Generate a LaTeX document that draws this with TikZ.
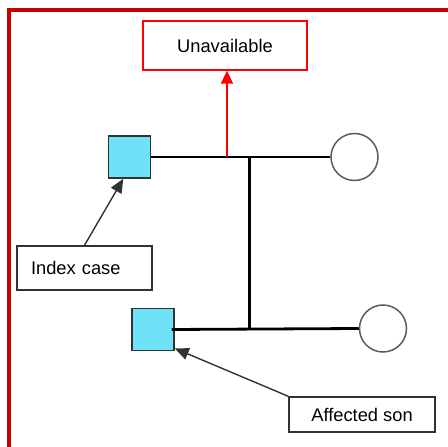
\documentclass[tikz,border=0pt]{standalone}
\usepackage{fontspec}
\setmainfont{Liberation Sans}
\usetikzlibrary{arrows.meta,calc}
\definecolor{framered}{RGB}{196,0,0}
\definecolor{affcyan}{RGB}{110,226,246}
\definecolor{edgegray}{RGB}{50,50,50}
\tikzset{
  labelbox/.style={draw=edgegray, line width=1.4pt, rectangle, inner sep=0pt, font=\fontsize{18.3}{20}\selectfont},
  affected/.style={draw=edgegray, fill=affcyan, line width=1.5pt, rectangle, minimum size=42pt, inner sep=0pt},
  female/.style={draw=edgegray!80, line width=1.5pt, circle, minimum size=47pt, inner sep=0pt},
  mate/.style={line width=2.8pt, black},
  pointer/.style={line width=1.4pt, edgegray, -{Triangle[length=14pt,width=12pt]}},
}
\begin{document}
\begin{tikzpicture}[x=1pt,y=-1pt]
\useasboundingbox (0,0) rectangle (448,447);
% frame
\draw[framered, line width=3.8pt] (9,448) -- (9,10) -- (449,10);
% nodes
\node[labelbox, draw=red, minimum width=164pt, minimum height=49pt] (unav) at (225,45.5) {Unavailable};
\node[affected] (sq1) at (129.5,157) {};
\node[affected] (sq2) at (153,329.5) {};
\node[female] (c1) at (354.5,157) {};
\node[female] (c2) at (383,328.5) {};
\node[labelbox, minimum width=135pt, minimum height=44pt, text width=107pt, align=left] (idx) at (84.5,268) {Index case};
\node[labelbox, minimum width=146pt, minimum height=35pt] (aff) at (362,414.5) {Affected son};
% pedigree lines
\draw[mate] (sq1.east) -- (c1.west);
\draw[mate] ([xshift=-3pt]sq2.east) -- (c2.west);
\coordinate (jt) at ($(sq1.east)!0.549!(c1.west)$);
\coordinate (jb) at (jt |- c2.west);
\draw[mate] (jt) -- (jb);
\coordinate (rt) at (227,157);
\draw[red, line width=1.6pt, -{Triangle[length=13pt,width=12pt]}] (rt) -- (unav.south -| rt);
% pointers
\draw[pointer] (idx.north) -- (sq1.254);
\draw[pointer] (aff.north west) -- (sq2.-41);
\end{tikzpicture}
\end{document}
